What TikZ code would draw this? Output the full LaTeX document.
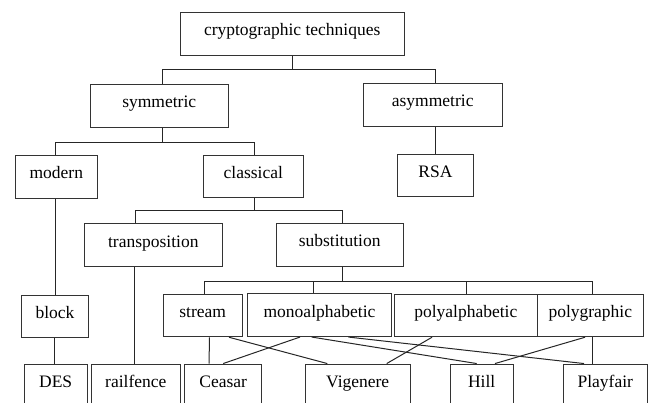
\documentclass[tikz,border=0pt]{standalone}
\usepackage{fontspec}
\setmainfont{Liberation Serif}
\usepackage{tikz}
\usetikzlibrary{calc}
\tikzset{cbox/.style={draw=black!80, line width=1pt, inner sep=0pt, minimum height=42.7pt,
    text height=12pt, text depth=8pt, font=\fontsize{17.5}{21}\selectfont},
  link/.style={draw=black!85, line width=1pt}}
\newcommand{\cbox}[5]{\node[cbox, minimum width=#4pt] (#1) at (#2,#3) {#5};}

\begin{document}
\begin{tikzpicture}[x=1pt,y=-1pt]
        \clip (0,0) rectangle (652,403);
        % row1
        \cbox{crypto}{292.2}{33.9}{224.3}{cryptographic techniques}
        % row2
        \cbox{sym}{159.2}{106}{138.3}{symmetric}
        \cbox{asym}{432.7}{104.8}{138.7}{asymmetric}
        % row3
        \cbox{modern}{56.3}{176.8}{82}{modern}
        \cbox{clas}{253.3}{176.4}{100}{classical}
        \cbox{rsa}{435.5}{175.4}{76.4}{RSA}
        % row4
        \cbox{transp}{153.3}{245}{138}{transposition}
        \cbox{subst}{339.7}{244.9}{127.3}{substitution}
        % row5
        \cbox{block}{55}{316.5}{66.6}{block}
        \cbox{stream}{202.7}{315.4}{79.3}{stream}
        \cbox{mono}{319.5}{315.2}{144.4}{monoalphabetic}
        \cbox{polya}{465.8}{315.4}{143}{polyalphabetic}
        \cbox{polyg}{590.3}{315.4}{106}{polygraphic}
        % row6
        \cbox{des}{55.7}{385.4}{63.3}{DES}
        \cbox{rail}{135.8}{385.4}{89}{railfence}
        \cbox{ceasar}{223.2}{385.4}{77}{Ceasar}
        \cbox{vig}{357.7}{385.4}{105.3}{Vigenere}
        \cbox{hill}{481.7}{385.4}{63.3}{Hill}
        \cbox{play}{605.3}{385.4}{84}{Playfair}

        % tree lines
        \draw[link] (crypto.south) -- ++(0,14) -| ([xshift=3pt]sym.north);
        \draw[link] (crypto.south) -- ++(0,14) -| ([xshift=3pt]asym.north);
        \draw[link] ([xshift=3pt]sym.south) -- ++(0,15) -| ([xshift=-1pt]modern.north);
        \draw[link] ([xshift=3pt]sym.south) -- ++(0,15) -| ([xshift=1pt]clas.north);
        \draw[link] (rsa.north) -- (rsa.north |- asym.south);
        \draw[link] ([xshift=1pt]clas.south) -- ++(0,12.6) -| ([xshift=-18pt]transp.north);
        \draw[link] ([xshift=1pt]clas.south) -- ++(0,12.6) -| ([xshift=2.6pt]subst.north);
        \draw[link] (block.north) -- (block.north |- modern.south);
        \draw[link] ([xshift=-1pt]des.north) -- ([xshift=-1pt]des.north |- block.south);
        \draw[link] ([xshift=-1pt]rail.north) -- ([xshift=-1pt]rail.north |- transp.south);
        \draw[link] ([xshift=2.6pt]subst.south) -- ++(0,15) -| ([xshift=1.3pt]stream.north);
        \draw[link] ([xshift=2.6pt]subst.south) -- ++(0,15) -| ([xshift=-5.8pt]mono.north);
        \draw[link] ([xshift=2.6pt]subst.south) -- ++(0,15) -| ([xshift=0.9pt]polya.north);
        \draw[link] ([xshift=2.6pt]subst.south) -- ++(0,15) -| ([xshift=2pt]polyg.north);

        % crossing lines
        \draw[link] ([xshift=6.6pt]stream.south) -- ([xshift=-14pt]ceasar.north);
        \draw[link] ([xshift=26.3pt]stream.south) -- ([xshift=-30.4pt]vig.north);
        \draw[link] ([xshift=-19.5pt]mono.south) -- (ceasar.north);
        \draw[link] ([xshift=-7.8pt]mono.south) -- ([xshift=-5pt]hill.north);
        \draw[link] ([xshift=28.8pt]mono.south) -- ([xshift=-21.3pt]play.north);
        \draw[link] ([xshift=-33.8pt]polya.south) -- ([xshift=29pt]vig.north);
        \draw[link] ([xshift=-5.3pt]polyg.south) -- ([xshift=13.3pt]hill.north);
        \draw[link] ([xshift=2pt]polyg.south) -- ([xshift=-13pt]play.north);
\end{tikzpicture}
\end{document}
